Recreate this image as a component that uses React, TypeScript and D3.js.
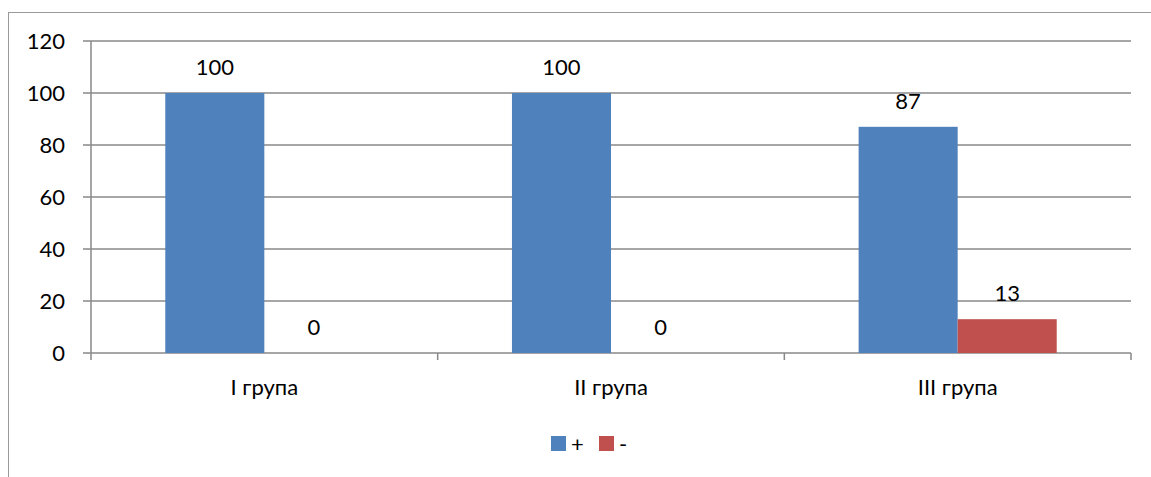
import { useEffect, useRef } from 'react';
import * as d3 from 'd3';

const categories = ['I група', 'II група', 'III група'];
const seriesNames = ['+', '-'];
const plusValues = [100, 100, 87];
const minusValues = [0, 0, 13];
const yTicks = [0, 20, 40, 60, 80, 100, 120];
const colors = ['#4f81bd', '#c0504d'];

export default function App() {
  const svgRef = useRef<SVGSVGElement>(null);

  useEffect(() => {
    if (!svgRef.current) return;
    const root = d3.select(svgRef.current);
    root.selectAll('*').remove();

    const font = 'Lato, Calibri, sans-serif';
    const fs = 22;

    // рамка области диаграммы
    root.append('rect')
      .attr('x', 8.5).attr('y', 12.5)
      .attr('width', 1160).attr('height', 480)
      .attr('fill', '#fff')
      .attr('stroke', '#9a9a9a')
      .attr('stroke-width', 1);

    const left = 91, right = 1131, top = 41, bottom = 353;

    const x0 = d3.scaleBand().domain(categories).range([left, right]).paddingInner(0).paddingOuter(0);
    const x1 = d3.scaleBand().domain(seriesNames).range([0, x0.bandwidth()]).paddingInner(0).paddingOuter(0.75);
    const y = d3.scaleLinear().domain([0, 120]).range([bottom, top]);

    const g = root.append('g');

    // сетка
    g.selectAll('line.grid')
      .data(yTicks)
      .enter()
      .append('line')
      .attr('x1', left - 8).attr('x2', right)
      .attr('y1', d => y(d)).attr('y2', d => y(d))
      .attr('stroke', '#888')
      .attr('stroke-width', 1.5);

    // ось Y
    g.append('line')
      .attr('x1', left).attr('x2', left)
      .attr('y1', top).attr('y2', bottom + 7)
      .attr('stroke', '#888').attr('stroke-width', 1.5);

    // засечки категорий
    const edges = [...categories.map(c => x0(c) as number), right];
    g.selectAll('line.ctick')
      .data(edges.slice(1))
      .enter()
      .append('line')
      .attr('x1', d => d).attr('x2', d => d)
      .attr('y1', bottom).attr('y2', bottom + 7)
      .attr('stroke', '#888').attr('stroke-width', 1.5);

    g.selectAll('text.ytick')
      .data(yTicks)
      .enter()
      .append('text')
      .attr('x', 65)
      .attr('y', d => y(d))
      .attr('dy', '0.35em')
      .attr('text-anchor', 'end')
      .attr('font-family', font)
      .attr('font-size', fs)
      .attr('fill', '#000')
      .text(d => d);

    const data = categories.map((c, i) => ({
      cat: c,
      vals: [plusValues[i], minusValues[i]],
    }));

    const groups = g.selectAll('g.cat')
      .data(data)
      .enter()
      .append('g')
      .attr('transform', d => `translate(${x0(d.cat)},0)`);

    groups.selectAll('rect')
      .data(d => d.vals.map((v, k) => ({ v, k })))
      .enter()
      .append('rect')
      .attr('x', d => x1(seriesNames[d.k]) as number)
      .attr('y', d => y(d.v))
      .attr('width', x1.bandwidth())
      .attr('height', d => bottom - y(d.v))
      .attr('fill', d => colors[d.k]);

    groups.selectAll('text.val')
      .data(d => d.vals.map((v, k) => ({ v, k })))
      .enter()
      .append('text')
      .attr('x', d => (x1(seriesNames[d.k]) as number) + x1.bandwidth() / 2)
      .attr('y', d => y(d.v) - 18)
      .attr('text-anchor', 'middle')
      .attr('font-family', font)
      .attr('font-size', fs)
      .attr('fill', '#000')
      .text(d => d.v);

    g.selectAll('text.cat')
      .data(categories)
      .enter()
      .append('text')
      .attr('x', d => (x0(d) as number) + x0.bandwidth() / 2)
      .attr('y', 387)
      .attr('dy', '0.35em')
      .attr('text-anchor', 'middle')
      .attr('font-family', font)
      .attr('font-size', fs)
      .attr('fill', '#000')
      .text(d => d);

    // легенда
    const legend = root.append('g').attr('transform', 'translate(551, 436)');
    const offsets = [0, 48];
    seriesNames.forEach((s, i) => {
      legend.append('rect')
        .attr('x', offsets[i]).attr('y', 0)
        .attr('width', 15).attr('height', 15)
        .attr('fill', colors[i]);
      legend.append('text')
        .attr('x', offsets[i] + 20)
        .attr('y', 8)
        .attr('dy', '0.35em')
        .attr('font-family', font)
        .attr('font-size', fs)
        .attr('fill', '#000')
        .text(s);
    });
  }, []);

  return <svg ref={svgRef} width={1151} height={477} style={{ position: 'absolute', left: 0, top: 0 }} />;
}
